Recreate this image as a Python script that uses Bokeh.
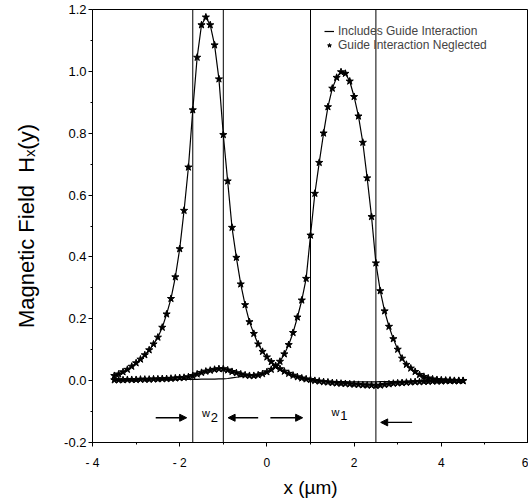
from bokeh.plotting import figure
from bokeh.models import (FixedTicker, Span, Arrow, NormalHead, Legend, LegendItem,
                          ColumnDataSource)
from bokeh.embed import file_html
from bokeh.resources import INLINE
from bokeh.core.properties import value

# ---- data ----
x_um = [-3.5, -3.4, -3.3, -3.2, -3.1, -3.0, -2.9, -2.8, -2.7, -2.6,
        -2.5, -2.4, -2.3, -2.2, -2.1, -2.0, -1.9, -1.8, -1.7, -1.6,
        -1.5, -1.4, -1.3, -1.2, -1.1, -1.0, -0.9, -0.8, -0.7, -0.6,
        -0.5, -0.4, -0.3, -0.2, -0.1, 0.0, 0.1, 0.2, 0.3, 0.4,
        0.5, 0.6, 0.7, 0.8, 0.9, 1.0, 1.1, 1.2, 1.3, 1.4,
        1.5, 1.6, 1.7, 1.8, 1.9, 2.0, 2.1, 2.2, 2.3, 2.4,
        2.5, 2.6, 2.7, 2.8, 2.9, 3.0, 3.1, 3.2, 3.3, 3.4,
        3.5, 3.6, 3.7, 3.8, 3.9, 4.0, 4.1, 4.2, 4.3, 4.4, 4.5]

# mode of guide 2 (left peak), x = -3.5 .. 1.0
h2_core = [0.016, 0.021, 0.028, 0.036, 0.046, 0.057, 0.069, 0.083, 0.099, 0.118,
           0.140, 0.172, 0.215, 0.265, 0.335, 0.426, 0.550, 0.690, 0.875, 1.045,
           1.150, 1.175, 1.150, 1.085, 0.975, 0.795, 0.645, 0.495, 0.398, 0.312,
           0.245, 0.190, 0.152, 0.118, 0.094, 0.076, 0.061, 0.048, 0.038, 0.030,
           0.023, 0.017, 0.012, 0.008, 0.005, 0.003]
# right tails, x = 1.1 .. 4.5
h2_tail_incl = [0.001, 0.0, -0.001, -0.002, -0.002, -0.003, -0.003, -0.003, -0.004, -0.004,
                -0.004, -0.004, -0.004, -0.004, -0.004, -0.003, -0.003, -0.003, -0.003, -0.002,
                -0.002, -0.002, -0.002, -0.001, -0.001, -0.001, -0.001, -0.001, 0.0, 0.0,
                0.0, 0.0, 0.0, 0.0, 0.0]
h2_tail_negl = [0.0, -0.002, -0.004, -0.005, -0.007, -0.008, -0.009, -0.010, -0.011, -0.012,
                -0.013, -0.014, -0.015, -0.015, -0.016, -0.015, -0.013, -0.011, -0.009, -0.008,
                -0.007, -0.006, -0.005, -0.004, -0.004, -0.003, -0.003, -0.002, -0.002, -0.002,
                -0.001, -0.001, -0.001, -0.001, -0.001]

# mode of guide 1 (right peak); left tails x = -3.5 .. 0.1
h1_tail_incl = [0.0, 0.0, 0.001, 0.001, 0.001, 0.001, 0.002, 0.002, 0.002, 0.002,
                0.003, 0.003, 0.003, 0.003, 0.003, 0.004, 0.004, 0.004, 0.004, 0.004,
                0.005, 0.005, 0.005, 0.005, 0.006, 0.006, 0.007, 0.009, 0.011, 0.013,
                0.015, 0.016, 0.016, 0.018, 0.022, 0.028, 0.036]
h1_tail_negl = [0.002, 0.002, 0.002, 0.003, 0.003, 0.003, 0.004, 0.004, 0.004, 0.005,
                0.005, 0.006, 0.006, 0.007, 0.008, 0.009, 0.010, 0.012, 0.016, 0.021,
                0.026, 0.030, 0.033, 0.036, 0.038, 0.038, 0.034, 0.029, 0.025, 0.021,
                0.018, 0.016, 0.016, 0.018, 0.022, 0.028, 0.036]
# x = 0.2 .. 4.5
h1_core = [0.046, 0.062, 0.086, 0.116, 0.155, 0.205, 0.260, 0.330, 0.470, 0.605,
           0.705, 0.800, 0.885, 0.945, 0.980, 0.998, 0.993, 0.968, 0.918, 0.855,
           0.770, 0.655, 0.530, 0.380, 0.290, 0.225, 0.175, 0.135, 0.101, 0.072,
           0.052, 0.040, 0.029, 0.019, 0.013, 0.008, 0.005, 0.003, 0.002, 0.001,
           0.001, 0.0, 0.0, 0.0]

h2_incl = h2_core + h2_tail_incl
h2_negl = h2_core + h2_tail_negl
h1_incl = h1_tail_incl + h1_core
h1_negl = h1_tail_negl + h1_core

guide_edges = [-1.7, -1.0, 1.0, 2.5]

arrow_x_start = [-2.55, -0.2, 0.08, 3.33]
arrow_x_end = [-1.84, -0.89, 0.82, 2.61]
arrow_y = [-0.12, -0.12, -0.12, -0.135]

w_text = ["w", "w"]
w_sub = ["2", "1"]
w_x = [-1.4, 1.57]
w_y = [-0.105, -0.1]

x_ticks = [-4, -2, 0, 2, 4, 6]
x_minor = [-3, -1, 1, 3, 5]
x_tick_labels = ["- 4", "- 2", "0", "2", "4", "6"]
y_ticks = [-0.2, 0.0, 0.2, 0.4, 0.6, 0.8, 1.0, 1.2]
y_minor = [-0.1, 0.1, 0.3, 0.5, 0.7, 0.9, 1.1]
y_tick_labels = ["-0.2", "0.0", "0.2", "0.4", "0.6", "0.8", "1.0", "1.2"]

FONT = "Liberation Sans"
NB = "\u00a0"

p = figure(frame_width=436, frame_height=433, x_range=(-4, 6), y_range=(-0.2, 1.2),
           output_backend="svg", toolbar_location=None,
           min_border_left=92, min_border_right=0, min_border_top=9, min_border_bottom=52)
p.grid.visible = False
p.outline_line_color = "black"
p.outline_line_width = 1
p.background_fill_color = "white"
p.border_fill_color = "white"

for ax in (p.xaxis[0], p.yaxis[0]):
    ax.axis_line_color = "black"
    ax.major_tick_out = 4
    ax.major_tick_in = 0
    ax.minor_tick_out = 2
    ax.minor_tick_in = 0
    ax.major_label_text_font = FONT
    ax.major_label_text_color = "black"
    ax.axis_label_text_font = FONT
    ax.axis_label_text_font_style = "normal"
    ax.axis_label_text_color = "black"

p.xaxis.ticker = FixedTicker(ticks=x_ticks, minor_ticks=x_minor)
p.xaxis.major_label_overrides = dict(zip(x_ticks, x_tick_labels))
p.xaxis.major_label_text_font_size = "12px"
p.xaxis.major_label_standoff = 9
p.xaxis.axis_label = "x (\u00b5m)"
p.xaxis.axis_label_text_font_size = "19px"
p.xaxis.axis_label_standoff = 4

p.yaxis.ticker = FixedTicker(ticks=y_ticks, minor_ticks=y_minor)
p.yaxis.major_label_overrides = dict(zip(y_ticks, y_tick_labels))
p.yaxis.major_label_text_font_size = "13px"
p.yaxis.major_label_standoff = 2
p.yaxis.axis_label = "Magnetic Field" + NB + NB + "H\u2093(y)"
p.yaxis.axis_label_text_font_size = "22px"
p.yaxis.axis_label_standoff = 22

for e in guide_edges:
    p.add_layout(Span(location=e, dimension="height", line_color="black", line_width=1))

src = ColumnDataSource(dict(x=x_um, h2i=h2_incl, h2n=h2_negl, h1i=h1_incl, h1n=h1_negl))
l1 = p.line("x", "h2i", source=src, line_color="black", line_width=1.2)
l2 = p.line("x", "h1i", source=src, line_color="black", line_width=1.2)
s1 = p.scatter("x", "h2n", source=src, marker="star", size=7.5, color="black")
s2 = p.scatter("x", "h1n", source=src, marker="star", size=7.5, color="black")

asrc = ColumnDataSource(dict(x0=arrow_x_start, x1=arrow_x_end, y=arrow_y))
p.add_layout(Arrow(end=NormalHead(size=7, fill_color="black", line_color="black"),
                   x_start="x0", y_start="y", x_end="x1", y_end="y", source=asrc,
                   line_color="black", line_width=1.3))

tsrc = ColumnDataSource(dict(x=w_x, y=w_y, t=w_text, s=w_sub))
p.text("x", "y", text="t", source=tsrc, text_font=value(FONT), text_font_size="11px",
       text_align="center", text_baseline="middle", text_color="black")
p.text("x", "y", text="s", source=tsrc, text_font=value(FONT), text_font_size="13px",
       text_align="left", text_baseline="middle", text_color="black",
       x_offset=5, y_offset=4)

legend = Legend(items=[LegendItem(label="Includes Guide Interaction", renderers=[l1]),
                       LegendItem(label="Guide Interaction Neglected", renderers=[s1])],
                location=(232, 390), orientation="vertical")
legend.label_text_font = FONT
legend.label_text_font_size = "12px"
legend.glyph_width = 10
legend.glyph_height = 10
legend.label_height = 10
legend.spacing = 0
legend.padding = 2
legend.margin = 0
legend.label_standoff = 4
legend.border_line_color = None
legend.background_fill_alpha = 0
p.add_layout(legend)

open("out.html", "w").write(file_html(p, INLINE))
